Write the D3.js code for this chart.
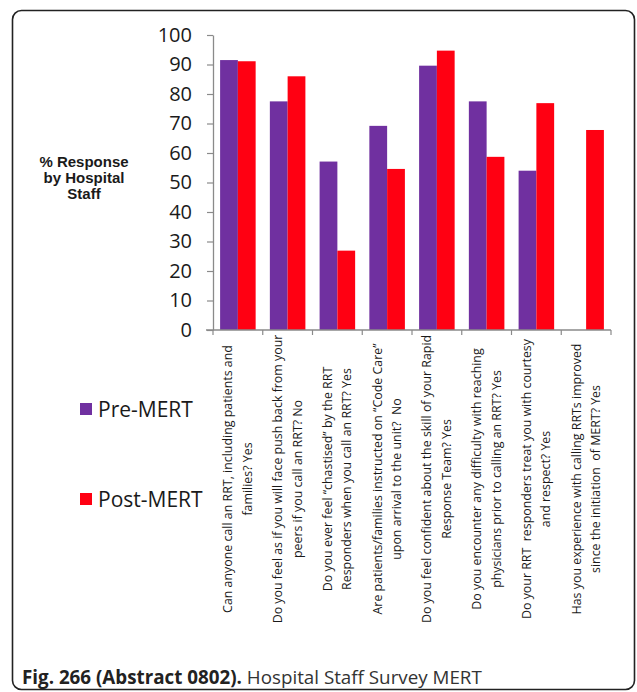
<!DOCTYPE html>
<html>
<head>
<meta charset="utf-8">
<script src="https://cdn.jsdelivr.net/npm/d3@7"></script>
<style>
  html, body { margin: 0; padding: 0; background: #fff; }
  svg { display: block; }
</style>
</head>
<body>
<svg id="chart" width="637" height="692"></svg>
<script>
// ---- data ----
const categories = [
  ["Can anyone call an RRT, including patients and", "families? Yes"],
  ["Do you feel as if you will face push back from your", "peers if you call an RRT? No"],
  ["Do you ever feel \u201cchastised\u201d by the RRT", "Responders when you call an RRT? Yes"],
  ["Are patients/families instructed on \u201cCode Care\u201d", "upon arrival to the unit?  No"],
  ["Do you feel confident about the skill of your Rapid", "Response Team? Yes"],
  ["Do you encounter any difficulty with reaching", "physicians prior to calling an RRT? Yes"],
  ["Do your RRT  responders treat you with courtesy", "and respect? Yes"],
  ["Has you experience with calling RRTs improved", "since the initiation  of MERT? Yes"]
];
const seriesNames = ["Pre-MERT", "Post-MERT"];
const preMERT  = [91.5, 77.5, 57.1, 69.2, 89.6, 77.5, 54.0, null];
const postMERT = [91.1, 86.0, 26.9, 54.6, 94.7, 58.7, 76.9, 67.8];
const yTicks = [0, 10, 20, 30, 40, 50, 60, 70, 80, 90, 100];
const yTitle = ["% Response", "by Hospital", "Staff"];
const captionBold = "Fig. 266 (Abstract 0802).";
const captionText = " Hospital Staff Survey MERT";

const colors = ["#7030a0", "#ff0012"];
const series = [preMERT, postMERT];

const svg = d3.select("#chart");

// frame
svg.append("rect")
  .attr("x", 12.5).attr("y", 10.5)
  .attr("width", 622).attr("height", 679)
  .attr("rx", 9).attr("ry", 9)
  .attr("fill", "#fff").attr("stroke", "#222").attr("stroke-width", 1.6);

// scales
const x0 = d3.scaleBand().domain(d3.range(categories.length)).range([213, 611]).paddingInner(0).paddingOuter(0);
const x1 = d3.scaleBand().domain(d3.range(series.length)).range([0, x0.bandwidth()]).paddingOuter(0.4).paddingInner(0);
const y = d3.scaleLinear().domain([0, 100]).range([330, 35]);

// bars
series.forEach((vals, si) => {
  svg.append("g").selectAll("rect")
    .data(vals.map((v, i) => ({ v, i })).filter(d => d.v != null))
    .join("rect")
    .attr("x", d => x0(d.i) + x1(si))
    .attr("width", x1.bandwidth())
    .attr("y", d => y(d.v))
    .attr("height", d => y(0) - y(d.v))
    .attr("fill", colors[si]);
});

// y axis
const yAxis = svg.append("g").attr("transform", "translate(213,0)")
  .call(d3.axisLeft(y).tickValues(yTicks).tickSize(6).tickPadding(15).tickSizeOuter(0));
yAxis.select(".domain").attr("stroke", "#8a8a8a").attr("stroke-width", 1.3);
yAxis.selectAll(".tick line").attr("stroke", "#8a8a8a").attr("stroke-width", 1.2);
yAxis.selectAll(".tick text")
  .attr("font-family", "'Open Sans', sans-serif").attr("font-size", 20).attr("fill", "#1a1a1a");

// x axis line with ticks at band boundaries
const xAxisG = svg.append("g");
xAxisG.append("line").attr("x1", 206).attr("x2", 611).attr("y1", 330).attr("y2", 330)
  .attr("stroke", "#8a8a8a").attr("stroke-width", 1.3);
const boundaries = d3.range(categories.length + 1).map(i => i < categories.length ? x0(i) : x0(i - 1) + x0.bandwidth());
xAxisG.selectAll("line.tk").data(boundaries).join("line").attr("class", "tk")
  .attr("x1", d => d).attr("x2", d => d).attr("y1", 330).attr("y2", 335)
  .attr("stroke", "#8a8a8a").attr("stroke-width", 1.2);

// x labels (rotated)
const labelFont = 12.4;
categories.forEach((lines, i) => {
  const c = x0(i) + x0.bandwidth() / 2;
  lines.forEach((ln, li) => {
    const bx = c + (li === 0 ? -5.5 : 14);
    svg.append("text")
      .attr("transform", `translate(${bx},479) rotate(-90)`)
      .attr("text-anchor", "middle")
      .attr("font-family", "'Open Sans', sans-serif")
      .attr("font-size", labelFont)
      .attr("fill", "#1a1a1a")
      .attr("xml:space", "preserve")
      .text(ln);
  });
});

// y title
svg.append("g").selectAll("text").data(yTitle).join("text")
  .attr("x", 84).attr("y", (d, i) => 167 + i * 16)
  .attr("text-anchor", "middle")
  .attr("font-family", "'Liberation Sans', Arial, sans-serif")
  .attr("font-weight", "bold").attr("font-size", 15).attr("fill", "#1a1a1a")
  .text(d => d);

// legend
const legendY = [409, 499];
const lg = svg.append("g").selectAll("g").data(seriesNames).join("g");
lg.append("rect").attr("x", 80).attr("y", (d, i) => legendY[i] - 6).attr("width", 12).attr("height", 12)
  .attr("fill", (d, i) => colors[i]);
lg.append("text").attr("x", 98).attr("y", (d, i) => legendY[i] + 8)
  .attr("font-family", "'Open Sans', sans-serif").attr("font-size", 21).attr("fill", "#1a1a1a")
  .text(d => d);

// caption
const cap = svg.append("text").attr("x", 22).attr("y", 684)
  .attr("font-family", "'Open Sans', sans-serif").attr("font-size", 18.8).attr("fill", "#333")
  .attr("xml:space", "preserve");
cap.append("tspan").attr("font-weight", "bold").attr("fill", "#222").text(captionBold);
cap.append("tspan").text(captionText);
</script>
</body>
</html>
